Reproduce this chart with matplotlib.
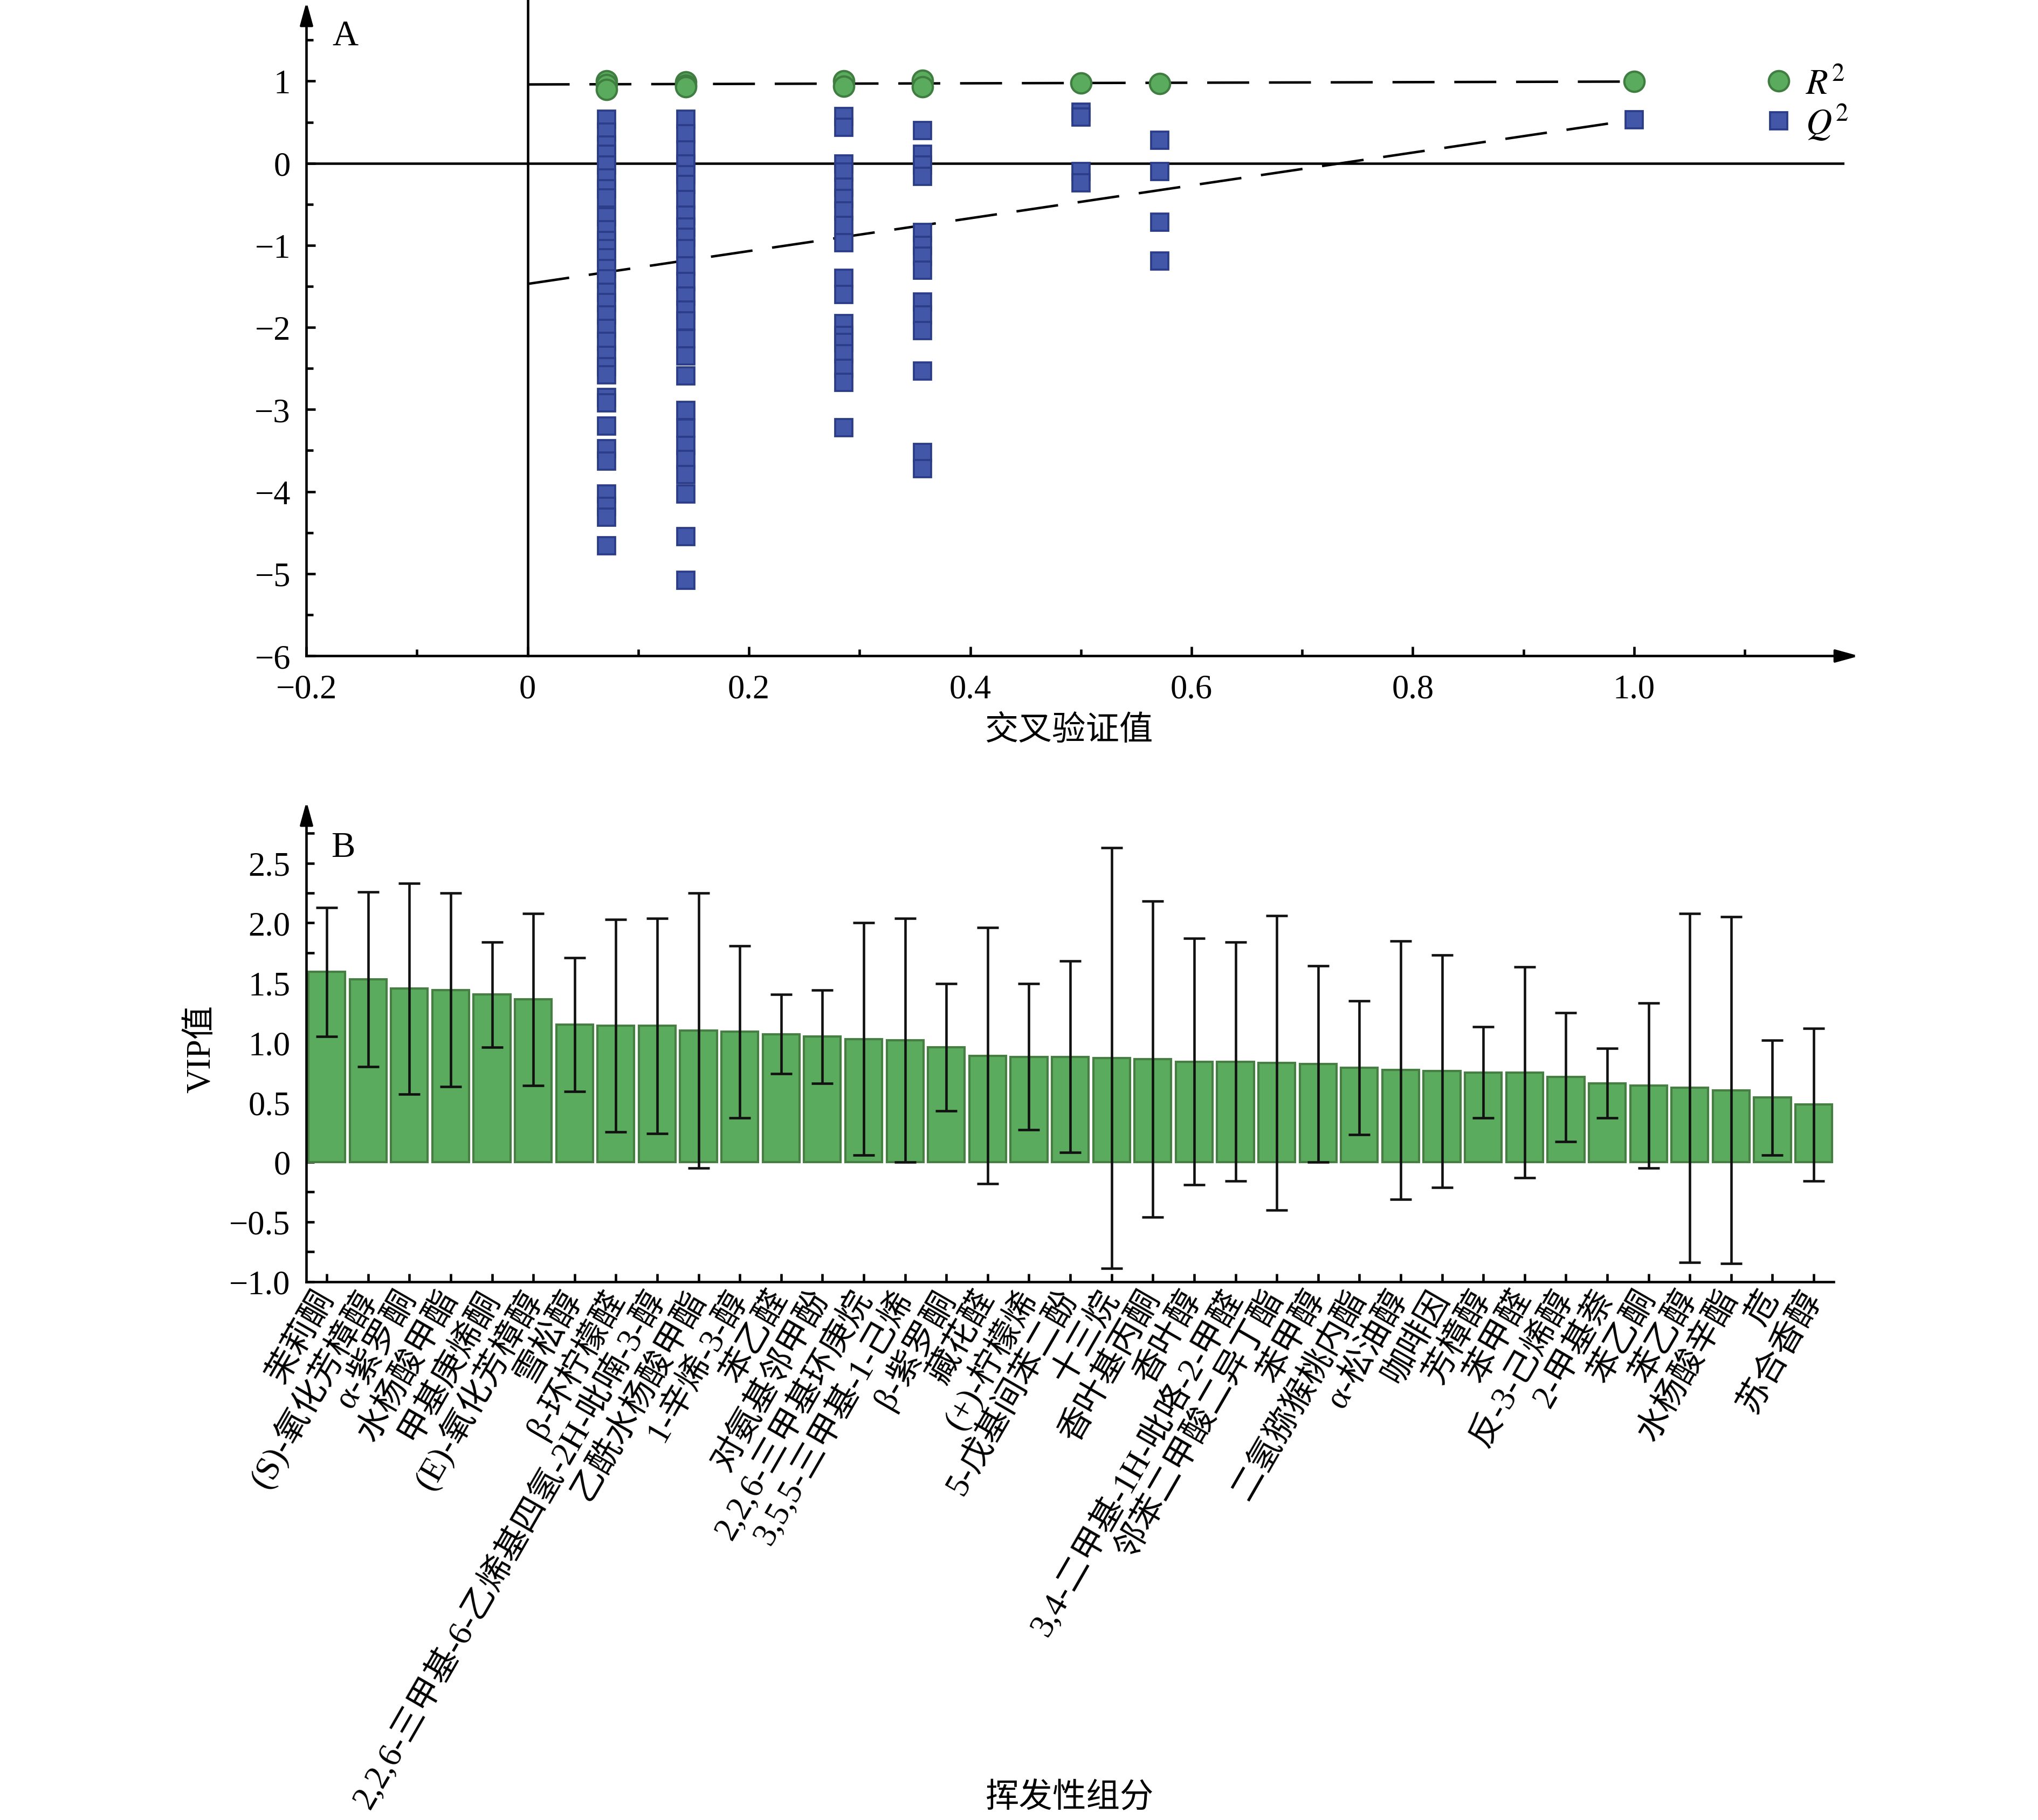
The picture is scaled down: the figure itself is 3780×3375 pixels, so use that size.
import numpy as np
import matplotlib.pyplot as plt
from matplotlib.ticker import MultipleLocator, FuncFormatter

plt.rcParams['font.family'] = ['Liberation Serif', 'Noto Sans CJK SC']
plt.rcParams['mathtext.fontset'] = 'stix'
plt.rcParams['font.size'] = 15

# ---- A: permutation test (x = correlation of permuted Y) ----
perm_x = [0.0714, 0.1429, 0.2857, 0.3571, 0.5, 0.5714, 1.0]
r2_cols = [
    [1.0, 0.96, 0.90],
    [0.99, 0.95, 0.93],
    [1.0, 0.94],
    [1.01, 0.93],
    [0.98],
    [0.97],
    [0.995],
]
q2_cols = [
    [0.54, 0.38, 0.22, 0.11, -0.02, -0.18, -0.31, -0.42, -0.65, -0.81, -0.94,
     -1.04, -1.15, -1.28, -1.41, -1.57, -1.70, -1.85, -2.01, -2.17, -2.34,
     -2.48, -2.58, -2.85, -2.92, -3.20, -3.48, -3.63, -4.03, -4.18, -4.31, -4.66],
    [0.54, 0.36, 0.16, -0.01, -0.14, -0.26, -0.44, -0.63, -0.78, -0.90, -1.04,
     -1.25, -1.44, -1.62, -1.79, -1.92, -2.14, -2.35, -2.59, -3.01, -3.23,
     -3.44, -3.61, -3.79, -4.03, -4.55, -5.08],
    [0.57, 0.44, -0.01, -0.11, -0.29, -0.43, -0.58, -0.76, -0.97, -1.40, -1.60,
     -1.95, -2.10, -2.18, -2.32, -2.50, -2.67, -3.22],
    [0.40, 0.11, -0.02, -0.16, -0.84, -1.00, -1.13, -1.30, -1.69, -1.85, -2.04,
     -2.53, -3.52, -3.72],
    [0.62, 0.56, -0.10, -0.24],
    [0.28, -0.10, -0.72, -1.19],
    [0.53],
]
# regression lines, values at x=0 and x=1
r2_line = [0.96, 0.995]
q2_line = [-1.47, 0.53]

# ---- B: VIP ----
compounds = [
    '茉莉酮', '(S)-氧化芳樟醇', 'α-紫罗酮', '水杨酸甲酯', '甲基庚烯酮',
    '(E)-氧化芳樟醇', '雪松醇', 'β-环柠檬醛', '2,2,6-三甲基-6-乙烯基四氢-2H-吡喃-3-醇',
    '乙酰水杨酸甲酯', '1-辛烯-3-醇', '苯乙醛', '对氨基邻甲酚', '2,2,6-三甲基环庚烷',
    '3,5,5-三甲基-1-己烯', 'β-紫罗酮', '藏花醛', '(+)-柠檬烯', '5-戊基间苯二酚',
    '十三烷', '香叶基丙酮', '香叶醇', '3,4-二甲基-1H-吡咯-2-甲醛', '邻苯二甲酸二异丁酯',
    '苯甲醇', '二氢猕猴桃内酯', 'α-松油醇', '咖啡因', '芳樟醇', '苯甲醛',
    '反-3-己烯醇', '2-甲基萘', '苯乙酮', '苯乙醇', '水杨酸辛酯', '苊', '苏合香醇',
]
vip = [1.59, 1.53, 1.45, 1.44, 1.40, 1.36, 1.15, 1.14, 1.14, 1.10, 1.09, 1.07,
       1.05, 1.03, 1.02, 0.96, 0.89, 0.88, 0.88, 0.87, 0.86, 0.84, 0.84, 0.83,
       0.82, 0.79, 0.77, 0.76, 0.75, 0.75, 0.71, 0.66, 0.64, 0.62, 0.60, 0.54, 0.48]
vip_err = [0.54, 0.73, 0.88, 0.81, 0.44, 0.72, 0.56, 0.89, 0.90, 1.15, 0.72, 0.33,
           0.39, 0.97, 1.02, 0.53, 1.07, 0.61, 0.80, 1.76, 1.32, 1.03, 1.00, 1.23,
           0.82, 0.56, 1.08, 0.97, 0.38, 0.88, 0.54, 0.29, 0.69, 1.46, 1.45, 0.48, 0.64]

green = '#5aab5e'
green_edge = '#467e44'
blue = '#4357a9'
blue_edge = '#2b3c88'

up_tri = [(0, 1), (-0.55, -1), (0.55, -1), (0, 1)]
right_tri = [(1, 0), (-1, 0.55), (-1, -0.55), (1, 0)]


def fmt(v, pos):
    if abs(v) < 1e-9:
        return '0'
    return ('%.1f' % v).replace('-', '\u2212')


def fmt_int(v, pos):
    return ('%d' % round(v)).replace('-', '\u2212')


fig = plt.figure(figsize=(12.6, 11.2533), dpi=300)

# ---------------- panel A ----------------
axA = fig.add_axes([0.1503, 0.6395, 0.9050 - 0.1503, 0.9912 - 0.6395])
axA.set_xlim(-0.2, 1.19)
axA.set_ylim(-6, 1.80)
for s in ['top', 'right']:
    axA.spines[s].set_visible(False)
for s in ['left', 'bottom']:
    axA.spines[s].set_linewidth(1.1)

axA.axhline(0, color='k', lw=1.1, zorder=1)
axA.plot([0, 0], [-6, 1.99], color='k', lw=1.1, clip_on=False, zorder=1)

axA.plot([0, 1], r2_line, color='k', lw=1.1, ls=(0, (17, 8)), zorder=2)
axA.plot([0, 1], q2_line, color='k', lw=1.1, ls=(0, (17, 8)), zorder=2)

qx = [x for x, col in zip(perm_x, q2_cols) for _ in col]
qy = [v for col in q2_cols for v in col]
rx = [x for x, col in zip(perm_x, r2_cols) for _ in col]
ry = [v for col in r2_cols for v in col]

axA.plot(rx, ry, 'o', ms=9, mfc=green, mec='#3f7d40', mew=1.0, ls='none',
         label='$R^2$', zorder=4)
axA.plot(qx, qy, 's', ms=7.6, mfc=blue, mec=blue_edge, mew=0.9, ls='none',
         label='$Q^2$', zorder=3)

leg = axA.legend(loc='upper right', bbox_to_anchor=(1.012, 0.94), frameon=False,
                 handlelength=0.8, handletextpad=0.35, labelspacing=0.02,
                 borderaxespad=0, fontsize=16)

axA.xaxis.set_major_locator(MultipleLocator(0.2))
axA.xaxis.set_minor_locator(MultipleLocator(0.1))
axA.yaxis.set_major_locator(MultipleLocator(1))
axA.yaxis.set_minor_locator(MultipleLocator(0.5))
axA.xaxis.set_major_formatter(FuncFormatter(fmt))
axA.yaxis.set_major_formatter(FuncFormatter(fmt_int))
axA.tick_params(which='both', direction='in', width=1.1, labelsize=15)
axA.tick_params(which='major', length=4)
axA.tick_params(which='minor', length=3)
axA.tick_params(axis='y', pad=7)
axA.tick_params(axis='x', pad=8)

axA.plot(0, 1, marker=up_tri, ms=9, color='k', transform=axA.transAxes, clip_on=False)
axA.plot(1, 0, marker=right_tri, ms=9, color='k', transform=axA.transAxes, clip_on=False)

axA.text(-0.165, 1.55, 'A', fontsize=16, ha='center', va='center')
axA.set_xlabel('交叉验证值', fontsize=15)
axA.xaxis.set_label_coords(0.4957, -0.093)

# ---------------- panel B ----------------
axB = fig.add_axes([0.1502, 0.2957, 0.8997 - 0.1502, 0.5519 - 0.2957])
xpos = np.arange(len(compounds))
axB.bar(xpos, vip, width=0.89, color=green, edgecolor=green_edge, linewidth=1.0,
        yerr=vip_err, capsize=4.8,
        error_kw=dict(elinewidth=1.1, capthick=1.1, ecolor='#111111'), zorder=2)
axB.set_xlim(-0.5, 36.48)
axB.set_ylim(-1.0, 2.9)
for s in ['top', 'right']:
    axB.spines[s].set_visible(False)
for s in ['left', 'bottom']:
    axB.spines[s].set_linewidth(1.1)

axB.yaxis.set_major_locator(MultipleLocator(0.5))
axB.yaxis.set_minor_locator(MultipleLocator(0.25))
axB.yaxis.set_major_formatter(FuncFormatter(fmt))
axB.set_xticks(xpos)
axB.set_xticklabels(compounds, rotation=60, ha='right', va='center',
                    rotation_mode='anchor', fontsize=15)
axB.tick_params(which='both', direction='in', width=1.1, length=3.6)
axB.tick_params(axis='y', labelsize=15, pad=7)
axB.tick_params(axis='x', pad=5)

axB.plot(0, 1, marker=up_tri, ms=9, color='k', transform=axB.transAxes, clip_on=False)

axB.text(0.40, 2.63, 'B', fontsize=16, ha='center', va='center')
axB.set_ylabel('VIP值', fontsize=15)
axB.yaxis.set_label_coords(-0.058, 0.5)
axB.set_xlabel('挥发性组分', fontsize=15)
axB.xaxis.set_label_coords(0.5, -1.072)

fig.savefig('out.png', dpi=300)
